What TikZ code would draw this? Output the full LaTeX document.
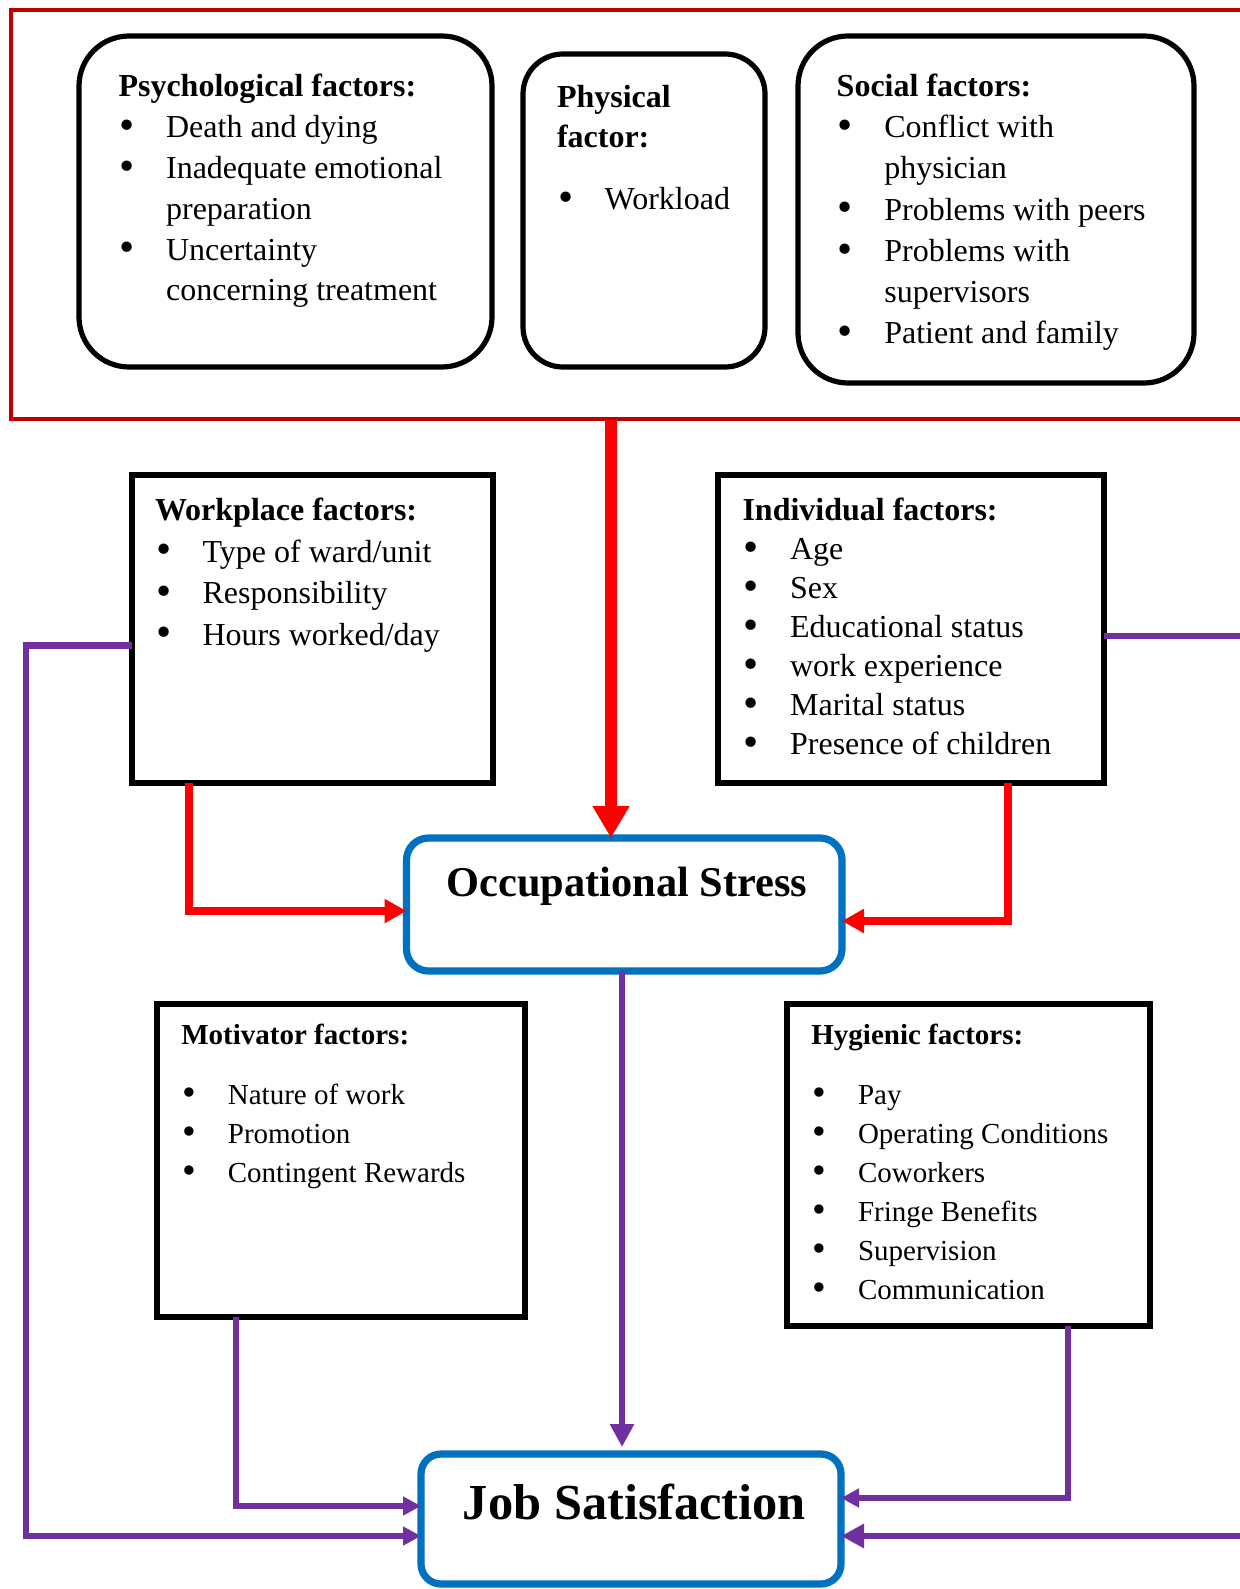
\documentclass[tikz,border=0pt]{standalone}
\usepackage{fontspec}
\setmainfont{Liberation Serif}
\usetikzlibrary{arrows.meta,calc}
\definecolor{frameRed}{HTML}{C00000}
\definecolor{arrRed}{HTML}{FF0000}
\definecolor{blueBox}{HTML}{0070C0}
\definecolor{purp}{HTML}{7030A0}
\newcommand\bul{\makebox[23.8pt][l]{\hspace{0.6pt}\raisebox{-0.12ex}{\scalebox{1.35}{\textbullet}}}}
\newcommand\ind{\hspace*{23.8pt}}
\newcommand\buls{\makebox[23.3pt][l]{\hspace{0.6pt}\raisebox{-0.12ex}{\scalebox{1.35}{\textbullet}}}}
\begin{document}
\begin{tikzpicture}[x=0.5pt,y=-0.5pt,
  roundbox/.style={draw=black, line width=2.6pt, rounded corners=#1, inner sep=0pt, outer sep=0pt},
  sqbox/.style={draw=black, line width=3pt, inner sep=0pt, outer sep=0pt},
  mainbox/.style={draw=blueBox, line width=3.6pt, rounded corners=11pt, inner sep=0pt, outer sep=0pt},
  txt/.style={anchor=base west, inner sep=0pt, outer sep=0pt},
  redmain/.style={draw=arrRed, line width=6pt, -{Triangle[length=16pt,width=17.5pt]}},
  redside/.style={draw=arrRed, line width=4pt, -{Triangle[length=11pt,width=11.5pt]}},
  purpline/.style={draw=purp, line width=3.2pt},
  purparr/.style={draw=purp, line width=3.2pt, -{Triangle[length=9pt,width=9pt]}},
  purpbig/.style={draw=purp, line width=3.4pt, -{Triangle[length=11.5pt,width=11.5pt]}}
]
\useasboundingbox (0,0) rectangle (1240,1589);
\clip (0,0) rectangle (1240,1589);
\fill[white] (0,0) rectangle (1240,1589);

% outer red frame (open on the right)
\draw[frameRed, line width=2.4pt] (1260,10) -- (11,10) -- (11,419) -- (1260,419);

% top boxes
\node[roundbox=25pt, minimum width=206.5pt, minimum height=165.5pt] (psych) at (285.5,201.5) {};
\node[roundbox=20pt, minimum width=121pt, minimum height=156.5pt] (phys) at (644,210.5) {};
\node[roundbox=25pt, minimum width=198pt, minimum height=173.5pt] (social) at (996,209.5) {};

\node[txt] (psychT) at (118.5,96.5) {\fontsize{16}{20.45}\selectfont
  \begin{tabular}[t]{@{}l@{}}
  \textbf{Psychological factors:}\\
  \bul Death and dying\\
  \bul Inadequate emotional\\
  \ind preparation\\
  \bul Uncertainty\\
  \ind concerning treatment
  \end{tabular}};

\node[txt] (physT) at (557,108) {\fontsize{16}{19.75}\selectfont
  \begin{tabular}[t]{@{}l@{}}
  \textbf{Physical}\\
  \textbf{factor:}\\[11.4pt]
  \bul Workload
  \end{tabular}};

\node[txt] (socialT) at (836.7,96.5) {\fontsize{16}{20.6}\selectfont
  \begin{tabular}[t]{@{}l@{}}
  \textbf{Social factors:}\\
  \bul Conflict with\\
  \ind physician\\
  \bul Problems with peers\\
  \bul Problems with\\
  \ind supervisors\\
  \bul Patient and family
  \end{tabular}};

% middle boxes
\node[sqbox, minimum width=180.5pt, minimum height=154pt] (work) at (312,629) {};
\node[sqbox, minimum width=193pt, minimum height=154pt] (indiv) at (911,629) {};

\node[txt] (workT) at (155,520.5) {\fontsize{16}{20.77}\selectfont
  \begin{tabular}[t]{@{}l@{}}
  \textbf{Workplace factors:}\\
  \bul Type of ward/unit\\
  \bul Responsibility\\
  \bul Hours worked/day
  \end{tabular}};

\node[txt] (indivT) at (742.5,520.7) {\fontsize{16}{19.5}\selectfont
  \begin{tabular}[t]{@{}l@{}}
  \textbf{Individual factors:}\\
  \bul Age\\
  \bul Sex\\
  \bul Educational status\\
  \bul work experience\\
  \bul Marital status\\
  \bul Presence of children
  \end{tabular}};

% occupational stress
\node[mainbox, minimum width=217.75pt, minimum height=66.5pt] (OS) at (624.25,904.5) {};
\node[anchor=base, inner sep=0pt] (OST) at (627,896) {\fontsize{21.2}{25}\selectfont\bfseries Occupational Stress};

% lower boxes
\node[sqbox, minimum width=184pt, minimum height=156.5pt] (mot) at (341,1160.5) {};
\node[sqbox, minimum width=181.5pt, minimum height=161pt] (hyg) at (968.5,1165) {};

\node[txt] (motT) at (181.3,1044) {\fontsize{14.5}{19.5}\selectfont
  \begin{tabular}[t]{@{}l@{}}
  \textbf{Motivator factors:}\\[10.5pt]
  \buls Nature of work\\
  \buls Promotion\\
  \buls Contingent Rewards
  \end{tabular}};

\node[txt] (hygT) at (811.4,1044) {\fontsize{14.5}{19.5}\selectfont
  \begin{tabular}[t]{@{}l@{}}
  \textbf{Hygienic factors:}\\[10.5pt]
  \buls Pay\\
  \buls Operating Conditions\\
  \buls Coworkers\\
  \buls Fringe Benefits\\
  \buls Supervision\\
  \buls Communication
  \end{tabular}};

% job satisfaction
\node[mainbox, rounded corners=10pt, minimum width=210pt, minimum height=65pt] (JS) at (631,1519) {};
\node[anchor=base, inner sep=0pt] (JST) at (634.5,1519) {\fontsize{25.2}{30}\selectfont\bfseries Job Satisfaction};

% lanes
\coordinate (frameB) at (611,420);
\coordinate (laneA) at (611,0);
\coordinate (laneW) at (189,0);
\coordinate (laneI) at (1008,0);
\coordinate (laneC) at (622,0);
\coordinate (laneM) at (236,0);
\coordinate (laneH) at (1068,0);
\coordinate (laneL) at (26,0);
\coordinate (laneR) at (1260,0);
\coordinate (hW) at (0,911);
\coordinate (hI) at (0,921);
\coordinate (hM) at (0,1506);
\coordinate (hH) at (0,1498);
\coordinate (hLow) at (0,1536);
\coordinate (hWP) at (0,645.5);
\coordinate (hIP) at (0,635.7);

% red connectors
\draw[redmain] (frameB) -- (OS.north -| laneA);
\draw[redside] (work.south -| laneW) |- (OS.west |- hW);
\draw[redside] (indiv.south -| laneI) |- (OS.east |- hI);

% purple connectors
\draw[purpbig, shorten >=3.5pt] (OS.south -| laneC) -- (JS.north -| laneC);
\draw[purparr] (mot.south -| laneM) |- (JS.west |- hM);
\draw[purparr] (work.west |- hWP) -| (laneL |- hLow) -- (JS.west |- hLow);
\draw[purparr] (hyg.south -| laneH) |- (JS.east |- hH);
\draw[purpline] (indiv.east |- hIP) -- (laneR |- hIP);
\draw[purpbig] (laneR |- hLow) -- (JS.east |- hLow);
\end{tikzpicture}
\end{document}
